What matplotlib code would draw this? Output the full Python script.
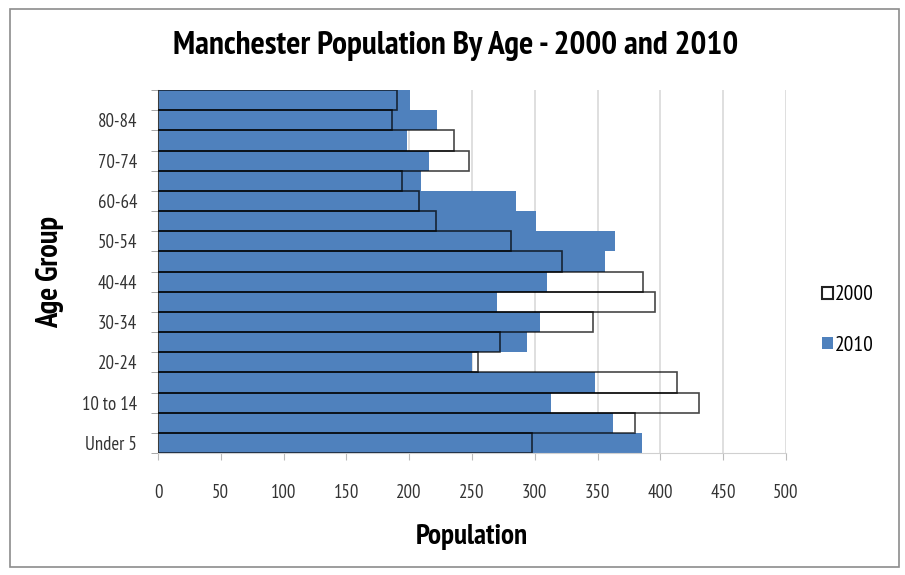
import matplotlib
matplotlib.use("Agg")
import matplotlib.pyplot as plt
from matplotlib import font_manager
from matplotlib.patches import Patch, Rectangle

age_groups = ["Under 5", "5-9", "10 to 14", "15-19", "20-24", "25-29", "30-34",
              "35-39", "40-44", "45-49", "50-54", "55-59", "60-64", "65-69",
              "70-74", "75-79", "80-84", "85+"]
pop_2000 = [298, 380, 431, 413, 255, 272, 346, 396, 386, 322, 281, 221, 208,
            194, 248, 236, 186, 190]
pop_2010 = [385, 362, 313, 348, 250, 294, 304, 270, 310, 356, 364, 301, 285,
            209, 216, 198, 222, 201]
x_ticks = [0, 50, 100, 150, 200, 250, 300, 350, 400, 450, 500]

installed = {f.name for f in font_manager.fontManager.ttflist}
narrow = next((n for n in ["PT Sans Narrow", "Roboto Condensed", "Fira Sans Condensed",
                           "Liberation Sans Narrow", "DejaVu Sans Condensed"]
               if n in installed), "DejaVu Sans")
plt.rcParams["font.family"] = [narrow, "DejaVu Sans"]

blue = "#4f81bd"
fig = plt.figure(figsize=(9.05, 5.75), dpi=100)
ax = fig.add_axes([158 / 905, 1 - 453 / 575, 628 / 905, 363 / 575])

ypos = list(range(len(age_groups)))
ax.barh(ypos, pop_2010, height=1.0, color=blue, edgecolor="none", zorder=2)
ax.barh(ypos, pop_2000, height=1.0, facecolor="none",
        edgecolor=(0, 0, 0, 0.72), linewidth=1.2, zorder=3)

ax.set_xlim(0, 500)
ax.set_ylim(-0.5, len(age_groups) - 0.5)
ax.set_xticks(x_ticks)
ax.set_xticklabels([str(t) for t in x_ticks], fontsize=13.5, color="#333333")
ax.xaxis.grid(True, color="#d9d9d9", linewidth=1.2, zorder=0)
ax.set_axisbelow(True)

label_idx = list(range(0, 17, 2))
ax.set_yticks(label_idx)
ax.set_yticklabels([age_groups[i] for i in label_idx], fontsize=13.5, color="#333333")
ax.set_yticks([i - 0.5 for i in range(len(age_groups) + 1)], minor=True)
ax.tick_params(axis="y", which="major", length=0, pad=15)
ax.tick_params(axis="y", which="minor", length=5, color="#999999", direction="out")
ax.tick_params(axis="x", length=5, color="#bbbbbb", direction="out", pad=17)

for side in ["top", "right"]:
    ax.spines[side].set_visible(False)
ax.spines["bottom"].set_color("#d0d0d0")
ax.spines["left"].set_color("#999999")

ax.set_xlabel("Population", fontsize=21, fontweight="bold", labelpad=16)
ax.set_ylabel("Age Group", fontsize=22, fontweight="bold", labelpad=13)

fig.text(456 / 905, 1 - 46 / 575, "Manchester Population By Age - 2000 and 2010",
         ha="center", va="center", fontsize=24, fontweight="bold")

handles = [Patch(facecolor="white", edgecolor="#222222", linewidth=1.5, label="2000"),
           Patch(facecolor=blue, edgecolor="none", label="2010")]
fig.legend(handles=handles, loc="center left", bbox_to_anchor=(811 / 905, 1 - 320 / 575),
           frameon=False, fontsize=15.5, labelspacing=1.45, handlelength=0.5,
           handleheight=0.5, handletextpad=0.12, borderpad=0)

fig.patches.append(Rectangle((10 / 905, 1 - 567 / 575), 889 / 905, 558 / 575,
                             transform=fig.transFigure, fill=False,
                             edgecolor="#8c8c8c", linewidth=1.2))

fig.savefig("out.png", dpi=100)
